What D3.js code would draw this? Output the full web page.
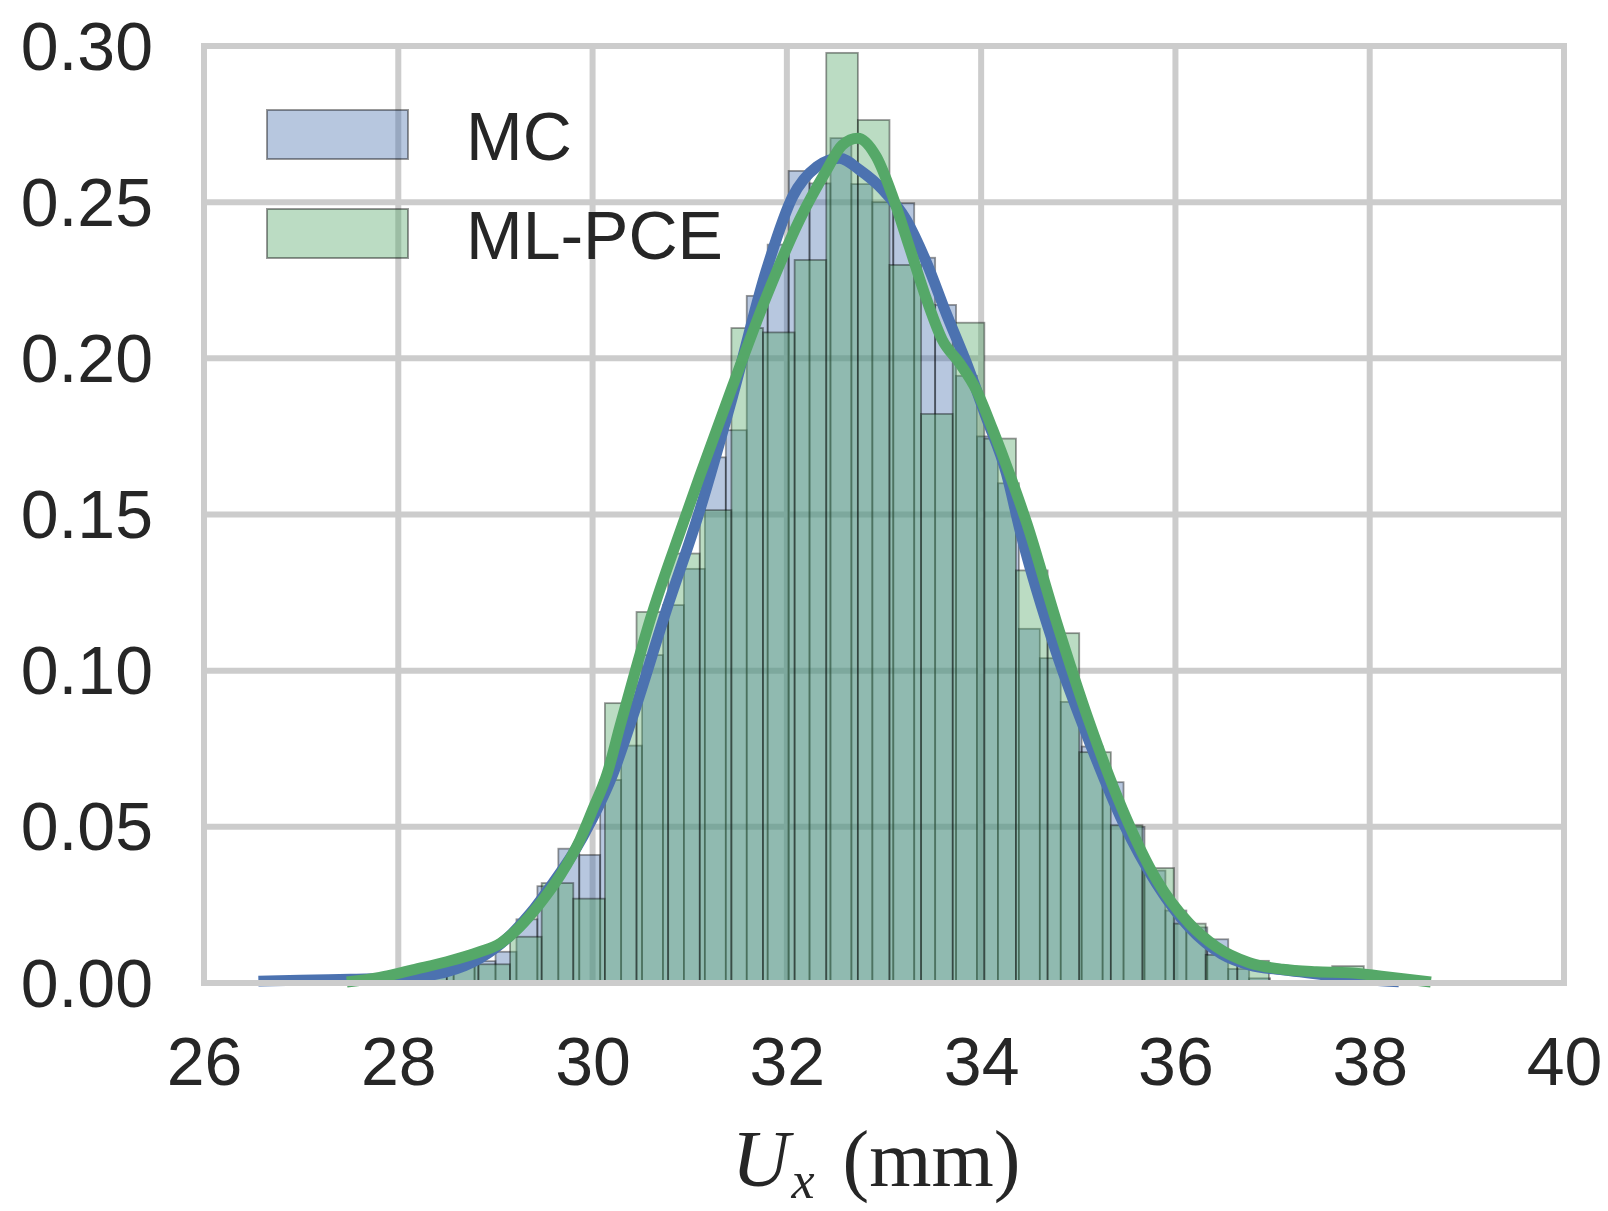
<!DOCTYPE html>
<html>
<head>
<meta charset="utf-8">
<script src="https://cdn.jsdelivr.net/npm/d3@7"></script>
<style>
  html, body { margin: 0; padding: 0; background: #ffffff; }
  svg { display: block; }
</style>
</head>
<body>
<script>
// ---------------- data ----------------
const xTicks = [26, 28, 30, 32, 34, 36, 38, 40];
const yTicks = [0.00, 0.05, 0.10, 0.15, 0.20, 0.25, 0.30];

// MC histogram (density), bins of equal width starting at mcBinStart
const mcBinStart = 28.139;
const mcBinWidth = 0.2155;
const mcDensity = [
  0.0055, 0.0030, 0.0086, 0.0070, 0.0100, 0.0204, 0.0310, 0.0430, 0.0410, 0.0650,
  0.0760, 0.1050, 0.1210, 0.1326, 0.1683, 0.1770, 0.2200, 0.2364, 0.2600, 0.2560,
  0.2705, 0.2558, 0.2500, 0.2497, 0.2322, 0.2171, 0.1944, 0.1750, 0.1600, 0.1134,
  0.1040, 0.0900, 0.0757, 0.0643, 0.0500, 0.0360, 0.0232, 0.0178, 0.0140, 0.0045,
  0.0015
];

// ML-PCE histogram (density)
const pceBinStart = 28.174;
const pceBinWidth = 0.3255;
const pceDensity = [
  0.0030, 0.0060, 0.0060, 0.0148, 0.0320, 0.0270, 0.0896, 0.1188, 0.1375, 0.1514,
  0.2097, 0.2083, 0.2315, 0.2978, 0.2763, 0.2299, 0.1822, 0.2114, 0.1743, 0.1321,
  0.1120, 0.0739, 0.0505, 0.0368, 0.0190, 0.0090, 0.0071, 0.0000, 0.0000, 0.0054
];

// KDE curves
const mcKdeX = [26.56, 26.99, 27.51, 28.02, 28.33, 28.50, 28.84, 29.12, 29.36, 29.59,
  29.80, 30.00, 30.21, 30.41, 30.76, 31.10, 31.44, 31.79, 32.06, 32.31, 32.54, 32.75,
  32.99, 33.23, 33.44, 33.64, 33.85, 34.05, 34.26, 34.40, 34.77, 35.11, 35.46, 35.81,
  36.14, 36.48, 36.76, 37.17, 37.58, 37.99, 38.30];
const mcKdeY = [0.0006, 0.0009, 0.0012, 0.0016, 0.0025, 0.0036, 0.0079, 0.0143, 0.0223, 0.0319,
  0.0415, 0.0527, 0.0670, 0.0850, 0.1194, 0.1510, 0.1877, 0.2283, 0.2518, 0.2614, 0.2641, 0.2603,
  0.2539, 0.2443, 0.2305, 0.2144, 0.1984, 0.1813, 0.1632, 0.1450, 0.1062, 0.0776, 0.0515, 0.0316,
  0.0179, 0.0092, 0.0058, 0.0040, 0.0025, 0.0010, 0.0004];

const pceKdeX = [27.47, 27.81, 27.99, 28.15, 28.50, 28.84, 29.05, 29.25, 29.46, 29.67,
  29.87, 30.00, 30.15, 30.28, 30.45, 30.59, 30.93, 31.10, 31.44, 31.79, 32.13, 32.41,
  32.57, 32.73, 32.92, 33.09, 33.26, 33.44, 33.60, 33.78, 33.95, 34.12, 34.29, 34.47,
  34.77, 35.11, 35.46, 35.81, 36.14, 36.42, 36.76, 37.10, 37.45, 37.78, 38.12, 38.63];
const pceKdeY = [0.0003, 0.0018, 0.0030, 0.0042, 0.0068, 0.0100, 0.0127, 0.0180, 0.0255, 0.0346,
  0.0458, 0.0554, 0.0670, 0.0820, 0.1010, 0.1160, 0.1470, 0.1620, 0.1910, 0.2198, 0.2443, 0.2603,
  0.2683, 0.2705, 0.2646, 0.2518, 0.2358, 0.2187, 0.2059, 0.1984, 0.1899, 0.1771, 0.1632, 0.1472,
  0.1162, 0.0838, 0.0552, 0.0328, 0.0191, 0.0116, 0.0065, 0.0044, 0.0036, 0.0033, 0.0022, 0.0003];

const seriesNames = ["MC", "ML-PCE"];
const seriesColors = ["#4C72B0", "#55A868"];

// ---------------- drawing ----------------
const W = 1608, H = 1211;
const L = 204, R = 1564, T = 46, B = 983;

const svg = d3.select("body").append("svg")
  .attr("width", W).attr("height", H)
  .attr("font-family", "'Liberation Sans', Arial, Helvetica, sans-serif");

const x = d3.scaleLinear().domain([26, 40]).range([L, R]);
const y = d3.scaleLinear().domain([0, 0.30]).range([B, T]);

const gridColor = "#cccccc";
const gridW = 6;

// grid
const grid = svg.append("g");
grid.selectAll("line.v").data(xTicks).join("line")
  .attr("x1", d => x(d)).attr("x2", d => x(d))
  .attr("y1", T).attr("y2", B)
  .attr("stroke", gridColor).attr("stroke-width", gridW);
grid.selectAll("line.h").data(yTicks).join("line")
  .attr("x1", L).attr("x2", R)
  .attr("y1", d => y(d)).attr("y2", d => y(d))
  .attr("stroke", gridColor).attr("stroke-width", gridW);

// histograms
function drawHist(start, width, dens, color) {
  const bins = dens.map((v, i) => ({ x0: start + i * width, x1: start + (i + 1) * width, v }))
    .filter(b => b.v > 0);
  svg.append("g").selectAll("rect").data(bins).join("rect")
    .attr("x", d => x(d.x0))
    .attr("width", d => x(d.x1) - x(d.x0))
    .attr("y", d => y(d.v))
    .attr("height", d => y(0) - y(d.v))
    .attr("fill", color).attr("fill-opacity", 0.4)
    .attr("stroke", "#000").attr("stroke-opacity", 0.4).attr("stroke-width", 1.8);
}
drawHist(mcBinStart, mcBinWidth, mcDensity, seriesColors[0]);
drawHist(pceBinStart, pceBinWidth, pceDensity, seriesColors[1]);

// KDE lines
const line = d3.line().x(d => x(d[0])).y(d => y(d[1])).curve(d3.curveMonotoneX);
svg.append("path").datum(d3.zip(mcKdeX, mcKdeY))
  .attr("d", line).attr("fill", "none")
  .attr("stroke", seriesColors[0]).attr("stroke-width", 11).attr("stroke-linejoin", "round");
svg.append("path").datum(d3.zip(pceKdeX, pceKdeY))
  .attr("d", line).attr("fill", "none")
  .attr("stroke", seriesColors[1]).attr("stroke-width", 11).attr("stroke-linejoin", "round");

// spines
svg.append("rect")
  .attr("x", L).attr("y", T).attr("width", R - L).attr("height", B - T)
  .attr("fill", "none").attr("stroke", gridColor).attr("stroke-width", gridW);

// axes (labels only)
const fmtY = d3.format(".2f");
const xAxis = d3.axisBottom(x).tickValues(xTicks).tickSize(0).tickPadding(0).tickFormat(d3.format("d"));
const yAxis = d3.axisLeft(y).tickValues(yTicks).tickSize(0).tickPadding(0).tickFormat(fmtY);

const gx = svg.append("g").attr("transform", `translate(0,${B})`).call(xAxis);
gx.select(".domain").remove();
gx.selectAll("text")
  .attr("y", 102).attr("dy", null)
  .attr("font-size", 68).attr("fill", "#262626")
  .attr("font-family", "'Liberation Sans', Arial, sans-serif");

const gy = svg.append("g").attr("transform", `translate(${L - 51},0)`).call(yAxis);
gy.select(".domain").remove();
gy.selectAll("text")
  .attr("x", 0).attr("dy", null).attr("y", 23)
  .attr("font-size", 68).attr("fill", "#262626")
  .attr("font-family", "'Liberation Sans', Arial, sans-serif");

// legend
const leg = svg.append("g");
seriesNames.forEach((name, i) => {
  const yy = 110 + i * 99;
  leg.append("rect")
    .attr("x", 267).attr("y", yy).attr("width", 141).attr("height", 49)
    .attr("fill", seriesColors[i]).attr("fill-opacity", 0.4)
    .attr("stroke", "#000").attr("stroke-opacity", 0.4).attr("stroke-width", 2);
  leg.append("text")
    .attr("x", 466).attr("y", yy + 50)
    .attr("font-size", 68).attr("fill", "#262626")
    .text(name);
});

// x label
const xl = svg.append("text")
  .attr("x", 876).attr("y", 1186)
  .attr("text-anchor", "middle")
  .attr("font-family", "'Liberation Serif', 'DejaVu Serif', serif")
  .attr("font-size", 80).attr("fill", "#262626");
xl.append("tspan").attr("font-style", "italic").text("U");
xl.append("tspan").attr("font-style", "italic").attr("font-size", 52).attr("dy", 12).attr("dx", 2).text("x");
xl.append("tspan").attr("dy", -12).attr("dx", 28).text("(mm)");
</script>
</body>
</html>
